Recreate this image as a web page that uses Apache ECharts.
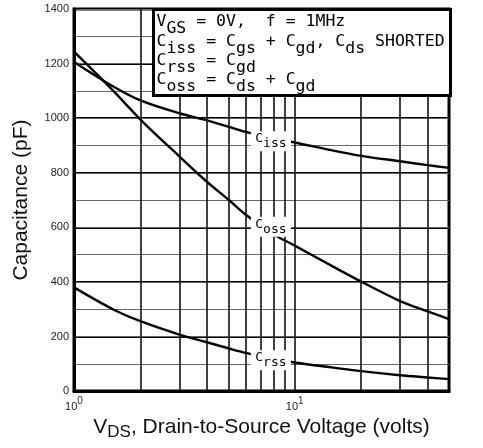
<!DOCTYPE html>
<html>
<head>
<meta charset="utf-8">
<script src="https://cdn.jsdelivr.net/npm/echarts@6/dist/echarts.min.js"></script>
<style>html,body{margin:0;padding:0;background:#fff}#c{width:483px;height:448px}</style>
</head>
<body>
<div id="c"></div>
<script>
// Data
const vds  = [1, 1.5, 2, 3, 4, 5, 6, 8, 10, 15, 20, 30, 40, 50];
const ciss = [1206, 1117, 1065, 1018, 992, 969, 950, 926, 911, 881, 862, 842, 828, 818];
const coss = [1244, 1102, 995, 860, 767, 702, 646, 575, 533, 455, 401, 330, 292, 264];
const crss = [380, 300, 256, 207, 179, 157, 140, 118, 105, 86, 73, 58, 50, 44];
const gridX = [2, 3, 4, 5, 6, 7, 8, 9, 10, 20, 30, 40];
const labelPos = { Ciss: [7.8, 915], Coss: [7.8, 602], Crss: [7.8, 113] };
const subName = { Ciss: 'iss', Coss: 'oss', Crss: 'rss' };
const boxLines = [
  '{n|V}{s|GS}{n| = 0V,  f = 1MHz}',
  '{n|C}{s|iss}{n| = C}{s|gs}{n| + C}{s|gd}{n|, C}{s|ds}{n| SHORTED}',
  '{n|C}{s|rss}{n| = C}{s|gd}',
  '{n|C}{s|oss}{n| = C}{s|ds}{n| + C}{s|gd}'
];

const MONO = '"DejaVu Sans Mono", monospace';
const SANS = '"Liberation Sans", Arial, sans-serif';

const chart = echarts.init(document.getElementById('c'), null, { renderer: 'canvas' });

function pairs(ys) { return vds.map((x, i) => [x, ys[i]]); }

function curve(name, ys) {
  return {
    name: name, type: 'line', data: pairs(ys), smooth: 0.35, showSymbol: false,
    symbol: 'none', lineStyle: { color: '#000', width: 2.4 }, z: 3, silent: true,
    markPoint: {
      symbol: 'rect', symbolSize: [40, 20], silent: true,
      itemStyle: { color: '#fff' },
      label: {
        show: true, position: 'inside',
        formatter: '{n|C}{s|' + subName[name] + '}',
        rich: {
          n: { fontFamily: MONO, fontSize: 13, color: '#000', lineHeight: 12, padding: [0, 0, 5, 0] },
          s: { fontFamily: MONO, fontSize: 13, color: '#000', lineHeight: 12, padding: [5, 0, 0, 0] }
        }
      },
      data: [{ coord: labelPos[name] }]
    }
  };
}

const richBox = {
  n: { fontFamily: MONO, fontSize: 16.5, fill: '#000', color: '#000', padding: [0, 0, 7, 0] },
  s: { fontFamily: MONO, fontSize: 16.5, fill: '#000', color: '#000', padding: [7, 0, 0, 0] }
};

const boxChildren = [
  { type: 'rect', z: 100, shape: { x: 0, y: 0, width: 297, height: 86 },
    style: { fill: '#fff', stroke: '#000', lineWidth: 3 } }
].concat(boxLines.map((t, i) => ({
  type: 'text', z: 101, x: 3, y: 4 + i * 19.3,
  style: { text: t, rich: richBox, verticalAlign: 'top' }
})));

const option = {
  animation: false,
  backgroundColor: '#fff',
  grid: { left: 74, right: 34, top: 9, bottom: 55, show: true, borderColor: '#000', borderWidth: 3, backgroundColor: 'transparent' },
  xAxis: {
    type: 'log', logBase: 10, min: 1, max: 50,
    axisLine: { show: true, lineStyle: { color: '#000', width: 3 } },
    axisTick: { show: false },
    splitLine: { show: false },
    axisLabel: {
      margin: 5,
      formatter: function (v) {
        if (Math.abs(v - 1) < 1e-9) return '{b|10}{p|0}';
        if (Math.abs(v - 10) < 1e-9) return '{b|10}{p|1}';
        return '';
      },
      rich: {
        b: { fontFamily: SANS, fontSize: 11, color: '#222', padding: [5, 0, 0, 0] },
        p: { fontFamily: SANS, fontSize: 10, color: '#222', padding: [0, 0, 5, 0] }
      }
    },
    name: '{n|V}{s|DS}{n|, Drain-to-Source Voltage (volts)}',
    nameLocation: 'middle', nameGap: 27,
    nameTextStyle: {
      rich: {
        n: { fontFamily: SANS, fontSize: 21, color: '#111', lineHeight: 20, padding: [0, 0, 5, 0] },
        s: { fontFamily: SANS, fontSize: 17, color: '#111', lineHeight: 20, padding: [5, 0, 0, 0] }
      }
    }
  },
  yAxis: [{
    type: 'value', min: 0, max: 1400, interval: 200,
    axisLine: { show: true, lineStyle: { color: '#000', width: 3 } },
    axisTick: { show: false },
    splitLine: { show: true, lineStyle: { color: '#000', width: 2 } },
    axisLabel: { fontFamily: SANS, fontSize: 11, color: '#222', margin: 5, formatter: function (v) { return String(v); } },
    name: 'Capacitance (pF)', nameLocation: 'middle', nameGap: 42, nameRotate: 90,
    nameTextStyle: { fontFamily: SANS, fontSize: 21, color: '#111' }
  }, {
    type: 'value', min: 0, max: 1400, interval: 100, position: 'left',
    axisLine: { show: false }, axisTick: { show: false }, axisLabel: { show: false },
    splitLine: { show: true, lineStyle: { color: '#666', width: 1 } }
  }],
  series: [
    {
      name: 'grid', type: 'line', data: [], silent: true, z: 2,
      markLine: {
        symbol: 'none', silent: true, label: { show: false },
        lineStyle: { color: '#111', width: 1.6, type: 'solid' },
        data: gridX.map(v => ({ xAxis: v }))
      }
    },
    curve('Ciss', ciss),
    curve('Coss', coss),
    curve('Crss', crss)
  ],
  graphic: [{
    type: 'group', left: 152, top: 8, z: 100,
    children: boxChildren
  }]
};
chart.setOption(option);
</script>
</body>
</html>
